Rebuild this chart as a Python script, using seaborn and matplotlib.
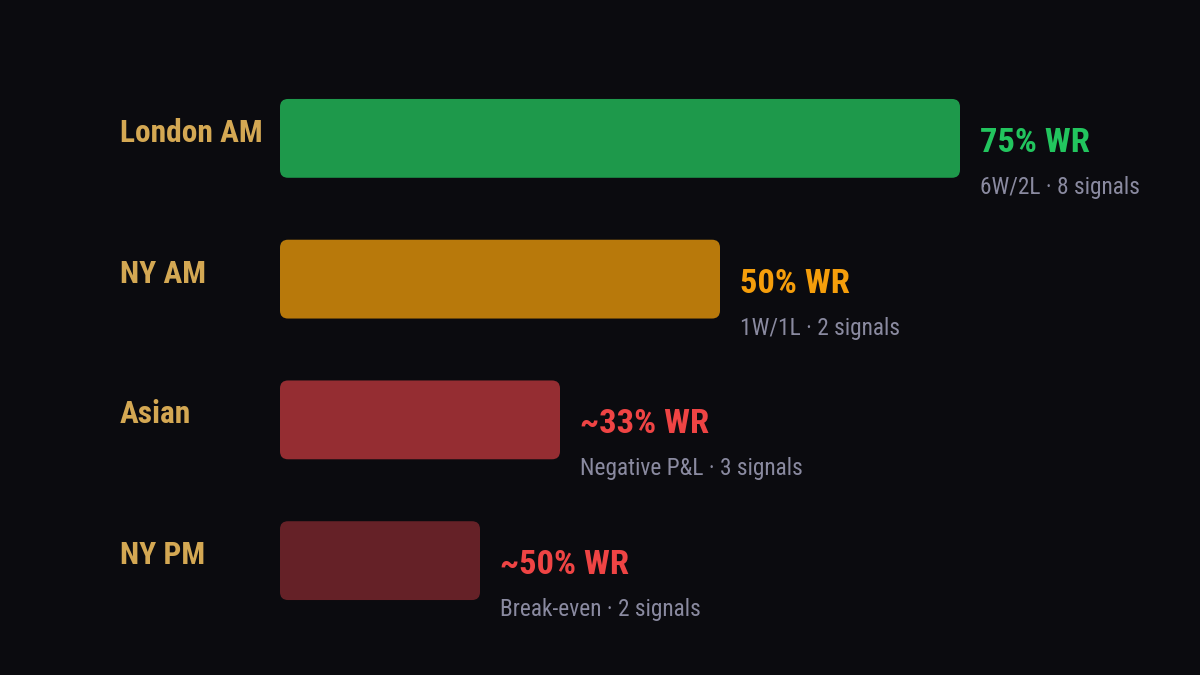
"""Win rate per trading session, horizontal rounded bars on dark background"""

import matplotlib
matplotlib.use("Agg")

import matplotlib.pyplot as plt
from matplotlib import font_manager as fm
from matplotlib.patches import FancyBboxPatch
import seaborn as sns


sessions = ["London AM", "NY AM", "Asian", "NY PM"]
bar_values = [85, 55, 35, 25]
wr_labels = ["75% WR", "50% WR", "~33% WR", "~50% WR"]
sub_labels = ["6W/2L · 8 signals", "1W/1L · 2 signals",
              "Negative P&L · 3 signals", "Break-even · 2 signals"]

bar_colors = ["#1e994b", "#b8790b", "#952d32", "#652127"]
wr_colors = ["#22c55e", "#f59e0b", "#ef4444", "#ef4444"]

BG = "#0b0b0f"
LABEL_GOLD = "#d4a853"
SUB_GRAY = "#8a8aa0"

CONDENSED = ("condensed", "semi-condensed", "extra-condensed", "ultra-condensed")


def _pick_font():
    # the reference uses a narrow sans, take the closest one installed
    entries = fm.fontManager.ttflist
    for name in ["Liberation Sans Narrow", "Roboto Condensed", "Open Sans Condensed",
                 "Noto Sans Condensed", "DejaVu Sans Condensed"]:
        if any(f.name == name for f in entries):
            return name, "normal"
    for name in ["Roboto", "Noto Sans", "Open Sans", "DejaVu Sans", "Liberation Sans"]:
        styles = {f.stretch for f in entries if f.name == name}
        for st in CONDENSED:
            if st in styles:
                return name, st
    for f in entries:
        if "Narrow" in f.name or "Condensed" in f.name:
            return f.name, "normal"
    return "Liberation Sans", "normal"


def _fit_size(fig, text, weight, target_px, base=24):
    # scale font size so that the string is as wide as in the reference
    t = fig.text(0, 0, text, fontsize=base, fontweight=weight)
    w = t.get_window_extent(fig.canvas.get_renderer()).width
    t.remove()
    return base * target_px / w


def plot_sessions():
    sns.set_theme(style="white")
    family, stretch = _pick_font()
    plt.rcParams["font.family"] = [family, "DejaVu Sans"]
    plt.rcParams["font.stretch"] = stretch

    fig = plt.figure(figsize=(12, 6.75), dpi=100, facecolor=BG)
    ax = fig.add_axes([280 / 1200, 1 - 631 / 675, 800 / 1200, 563 / 675])
    ax.set_facecolor(BG)

    label_size = _fit_size(fig, "London AM", "bold", 143)
    wr_size = _fit_size(fig, "75% WR", "bold", 110)
    sub_size = _fit_size(fig, "6W/2L · 8 signals", "normal", 160)

    sns.barplot(x=bar_values, y=sessions, hue=sessions, palette=bar_colors,
                orient="h", width=0.56, saturation=1, legend=False, ax=ax)

    ax.set_xlim(0, 100)
    ax.set_ylim(3.5, -0.5)

    # swap the square bars for rounded ones
    px_x = 100 / 800          # x data units per pixel
    px_y = 4 / 563            # y data units per pixel
    for patch in list(ax.patches):
        x0, y0 = patch.get_x(), patch.get_y()
        w, h = patch.get_width(), patch.get_height()
        color = patch.get_facecolor()
        patch.remove()
        ax.add_patch(FancyBboxPatch(
            (x0, y0), w, h,
            boxstyle=f"round,pad=0,rounding_size={8 * px_x}",
            mutation_aspect=px_y / px_x,
            facecolor=color, edgecolor="none",
        ))

    for i, name in enumerate(sessions):
        ax.annotate(name, xy=(0, i), xycoords=ax.get_yaxis_transform(),
                    xytext=(-160, -3.5), textcoords="offset pixels",
                    ha="left", va="baseline", fontsize=label_size,
                    fontweight="bold", color=LABEL_GOLD, annotation_clip=False)
        ax.annotate(wr_labels[i], xy=(bar_values[i], i),
                    xytext=(20, -13.5), textcoords="offset pixels",
                    ha="left", va="baseline", fontsize=wr_size,
                    fontweight="bold", color=wr_colors[i], annotation_clip=False)
        ax.annotate(sub_labels[i], xy=(bar_values[i], i),
                    xytext=(20, -55.5), textcoords="offset pixels",
                    ha="left", va="baseline", fontsize=sub_size,
                    color=SUB_GRAY, annotation_clip=False)

    ax.set_xticks([])
    ax.set_yticks([])
    ax.set_xlabel("")
    ax.set_ylabel("")
    sns.despine(ax=ax, left=True, bottom=True)

    fig.savefig("out.png", dpi=100, facecolor=BG)


if __name__ == "__main__":
    plot_sessions()
